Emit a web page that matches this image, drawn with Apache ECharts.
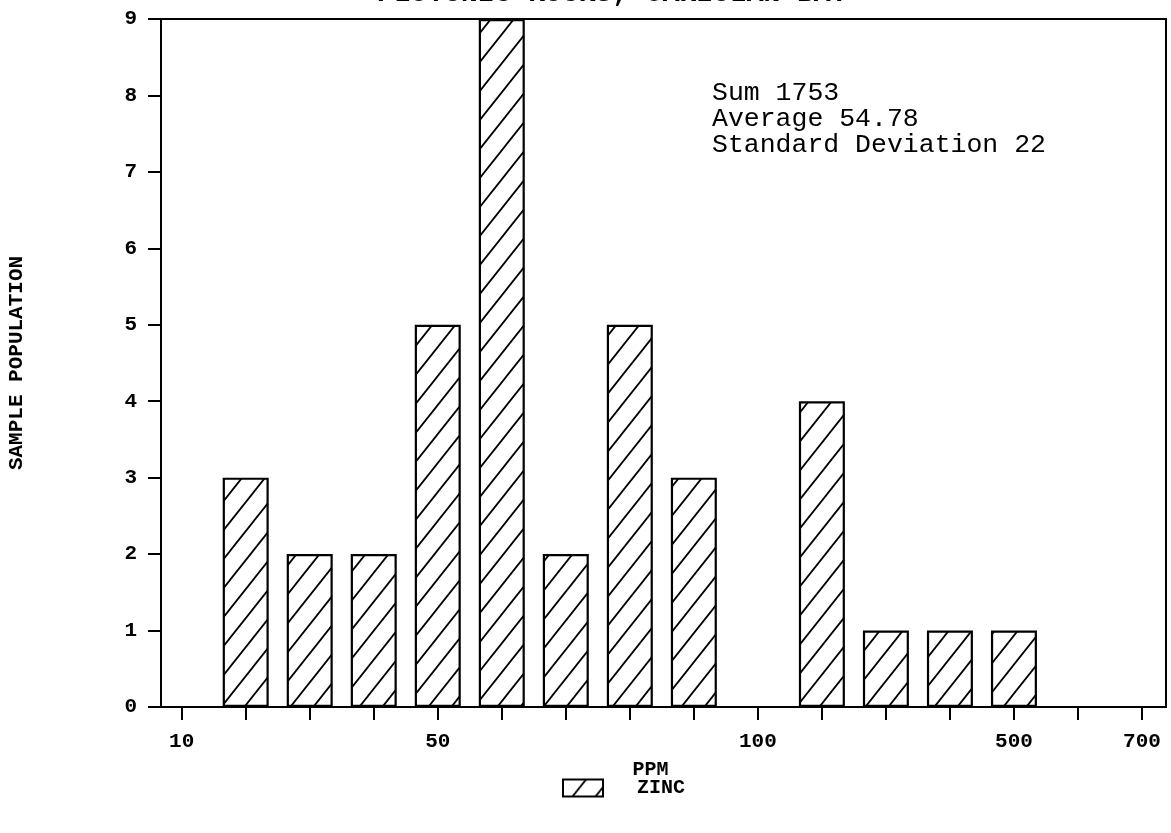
<!DOCTYPE html>
<html>
<head>
<meta charset="utf-8">
<script src="https://cdn.jsdelivr.net/npm/echarts@6/dist/echarts.min.js"></script>
<style>
html,body{margin:0;padding:0;background:#fff;}
#chart{width:1171px;height:833px;}
</style>
</head>
<body>
<div id="chart"></div>
<script>
// ---- data ----
const binPositions = [1,2,3,4,5,6,7,8,9,10,11,12,13,14,15,16];
const binLabels = ['10','','','','50','','','','','100','','','','500','','700'];
const sampleCounts = [null,3,2,2,5,9,2,5,3,null,4,1,1,1,null,null];
const yTicks = [0,1,2,3,4,5,6,7,8,9];
const seriesName = 'ZINC';
const xName = 'PPM';
const yName = 'SAMPLE POPULATION';
const titleText = 'PLUTONIC ROCKS, GARIOLAN BAY';
const statsLines = ['Sum 1753','Average 54.78','Standard Deviation 22'];

// hatch pattern
function hatch(){
  const w = 23, h = 29;
  const c = document.createElement('canvas');
  c.width = w; c.height = h;
  const g = c.getContext('2d');
  g.fillStyle = '#fff'; g.fillRect(0,0,w,h);
  g.strokeStyle = '#000'; g.lineWidth = 1.8;
  g.beginPath();
  g.moveTo(-w, 2*h); g.lineTo(2*w, -h);
  g.moveTo(0, 2*h); g.lineTo(3*w, -h);
  g.moveTo(-2*w, 2*h); g.lineTo(w, -h);
  g.stroke();
  return c;
}
const pattern = {image: hatch(), repeat: 'repeat'};

const barData = binPositions.map((p,i)=>[p, sampleCounts[i]]).filter(d=>d[1]!==null);
const labelPositions = binPositions.filter((p,i)=>binLabels[i]!=='');

const mono = '"Liberation Mono", monospace';
const chart = echarts.init(document.getElementById('chart'), null, {renderer:'canvas'});
chart.setOption({
  animation:false,
  backgroundColor:'#fff',
  title:[
    {text:titleText, left:372, top:-25,
     textStyle:{fontFamily:mono, fontWeight:'bold', fontSize:28, color:'#000'}},
    {text:statsLines.join('\n'), left:707, top:75,
     textStyle:{fontFamily:mono, fontWeight:'normal', fontSize:26.5, lineHeight:26, color:'#000'}}
  ],
  grid:{left:161, right:5, top:19, bottom:126, show:true, borderColor:'#000', borderWidth:2,
        containLabel:false, outerBoundsMode:'none'},
  legend:{
    data:[seriesName], left:557, top:773, itemWidth:40, itemHeight:17, icon:'rect',
    textStyle:{fontFamily:mono, fontWeight:'bold', fontSize:20, color:'#000', padding:[0,0,0,29]}
  },
  xAxis:{
    type:'value', min:0.677, max:16.375,
    name:xName, nameLocation:'middle', nameGap:53,
    nameTextStyle:{fontFamily:mono, fontWeight:'bold', fontSize:20, color:'#000', padding:[0,26,0,0]},
    splitLine:{show:false},
    axisLine:{show:true, lineStyle:{color:'#000', width:2}},
    axisTick:{show:true, customValues:binPositions, length:13, inside:false, lineStyle:{color:'#000', width:2}},
    axisLabel:{customValues:labelPositions, margin:24,
      formatter:v=>binLabels[binPositions.indexOf(Math.round(v))] || '',
      fontFamily:mono, fontWeight:'bold', fontSize:21, color:'#000'}
  },
  yAxis:{
    type:'value', min:yTicks[0], max:yTicks[yTicks.length-1], interval:1,
    name:yName, nameLocation:'middle', nameGap:134,
    nameTextStyle:{fontFamily:mono, fontWeight:'bold', fontSize:21, color:'#000'},
    splitLine:{show:false},
    axisLine:{show:true, lineStyle:{color:'#000', width:2}},
    axisTick:{show:true, length:13, inside:false, lineStyle:{color:'#000', width:2}},
    axisLabel:{margin:24, fontFamily:mono, fontWeight:'bold', fontSize:21, color:'#000'}
  },
  series:[{
    name:seriesName, type:'bar', data:barData, barWidth:46,
    itemStyle:{color:pattern, borderColor:'#000', borderWidth:2.2}
  }]
});
</script>
</body>
</html>
